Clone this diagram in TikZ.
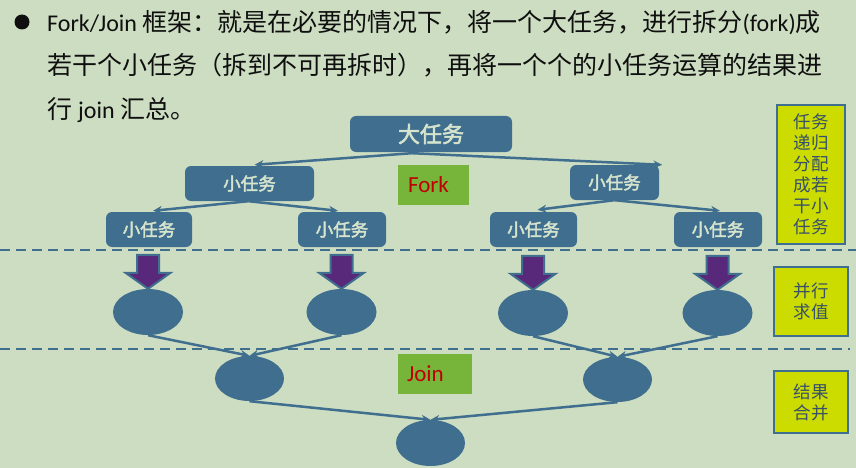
\documentclass[tikz,border=0pt]{standalone}
\usepackage{fontspec}
\setmainfont{Carlito}
\newfontfamily\cjk{Noto Sans CJK SC}
\newfontfamily\cjkb[FakeBold=2.5]{Noto Sans CJK SC}
\usetikzlibrary{arrows.meta,calc,shapes.geometric}
\definecolor{bg}{RGB}{205,221,194}
\definecolor{steel}{RGB}{63,110,142}
\definecolor{boxtxt}{RGB}{214,228,205}
\definecolor{purp}{RGB}{88,40,122}
\definecolor{yel}{RGB}{204,220,0}
\definecolor{grn}{RGB}{118,180,58}
\definecolor{redt}{RGB}{192,0,0}
\definecolor{ytxt}{RGB}{55,80,105}
\definecolor{headtxt}{RGB}{15,15,15}
\begin{document}
\begin{tikzpicture}[x=1pt,y=-1pt,
  task/.style={fill=steel, rounded corners=6pt, text=boxtxt, inner sep=0pt,
    font=\cjkb\fontsize{17.5}{17.5}\selectfont},
  blob/.style={ellipse, fill=steel, minimum width=70pt, minimum height=46pt, inner sep=0pt},
  conn/.style={draw=steel, line width=2.5pt, -{Stealth[length=9pt,width=8pt]}},
  sepline/.style={draw=steel, line width=2.5pt, dash pattern=on 10pt off 6pt},
  parrow/.style={fill=purp, draw=steel, line width=2pt, line join=miter},
  ybox/.style={fill=yel, draw=steel, line width=2.5pt, text=ytxt, align=center,
    inner sep=0pt, font=\cjk\fontsize{17.5}{21}\selectfont},
  gbox/.style={fill=grn, text=redt, inner sep=0pt, font=\fontsize{23}{23}\selectfont},
  head/.style={anchor=base west, inner sep=0pt, text=headtxt}
]
\fill[bg] (0,0) rectangle (856,468);
\useasboundingbox (0,0) rectangle (856,468);

% header
\fill[headtxt] (22,22) circle (7.5);
\node[head] (l1) at (47,32) {\fontsize{24}{24}\selectfont Fork/Join {\cjk\fontsize{25}{25}\selectfont 框架：就是在必要的情况下，将一个大任务，进行拆分}(fork){\cjk\fontsize{25}{25}\selectfont 成}};
\node[head] (l2) at (47,75) {\cjk\fontsize{25}{25}\selectfont 若干个小任务（拆到不可再拆时），再将一个个的小任务运算的结果进};
\node[head] (l3) at (47,119) {{\cjk\fontsize{25}{25}\selectfont 行}\hspace{6pt}\fontsize{24}{24}\selectfont join\hspace{6pt}{\cjk\fontsize{25}{25}\selectfont 汇总。}};

% fork tree
\node[task, minimum width=162pt, minimum height=36pt, font=\cjkb\fontsize{22}{22}\selectfont] (big) at (431,134) {大任务};
\node[task, minimum width=129pt, minimum height=35pt] (s1) at (249.5,183.5) {小任务};
\node[task, minimum width=89pt, minimum height=35pt] (s2) at (614.5,182.5) {小任务};
\node[task, minimum width=86pt, minimum height=35pt] (t1) at (149,229.5) {小任务};
\node[task, minimum width=88pt, minimum height=35pt] (t2) at (342,229.5) {小任务};
\node[task, minimum width=87pt, minimum height=35pt] (t3) at (533.5,229.5) {小任务};
\node[task, minimum width=88pt, minimum height=35pt] (t4) at (718,229.5) {小任务};

\draw[conn] ($(big.south)+(-19,1)$) -- ($(s1.north)+(5,-1)$);
\draw[conn] ($(big.south)+(-19,1)$) -- ($(s2.north east)+(3,0)$);
\draw[conn] ($(s1.south)+(-1,0)$) -- ($(t1.north)+(4,-1)$);
\draw[conn] ($(s1.south)+(-1,0)$) -- ($(t2.north)+(-4,-1)$);
\draw[conn] (s2.south) -- ($(t3.north)+(4,-2)$);
\draw[conn] (s2.south) -- ($(t4.north)+(2,-1)$);

\node[gbox, minimum width=71pt, minimum height=40pt, text width=51pt, align=left] (fork) at (433.5,185) {Fork};

% separators
\draw[sepline] (0,250) -- (856,250);
\draw[sepline] (0,349) -- (850,349);

% parallel
\node[blob] (e1) at (148,312) {};
\node[blob] (e2) at (341.5,312) {};
\node[blob] (e3) at (533,313) {};
\node[blob] (e4) at (717.5,313) {};
\foreach \n in {e1,e2,e3,e4}{
  \draw[parrow] ($(\n.north)+(-11,-34)$) -- ($(\n.north)+(11,-34)$) -- ($(\n.north)+(11,-16)$)
    -- ($(\n.north)+(22.5,-16)$) -- (\n.north) -- ($(\n.north)+(-22.5,-16)$)
    -- ($(\n.north)+(-11,-16)$) -- cycle;
}

% join
\node[blob, minimum width=69pt, minimum height=45pt] (j1) at (249.5,378.5) {};
\node[blob, minimum width=69pt, minimum height=45pt] (j2) at (617.5,379.5) {};
\node[blob, minimum width=69pt, minimum height=46pt] (f) at (430.5,443) {};
\draw[conn] (e1.south) -- (j1.north);
\draw[conn] (e2.south) -- (j1.north);
\draw[conn] (e3.south) -- (j2.north);
\draw[conn] (e4.south) -- (j2.north);
\draw[conn] (j1.south) -- (f.north);
\draw[conn] (j2.south) -- (f.north);

\node[gbox, minimum width=74pt, minimum height=40pt, text width=56pt, align=left] (join) at (435,374) {Join};

% side labels
\node[ybox, minimum width=68pt, minimum height=139pt] (y1) at (811,174.5) {任务\\递归\\分配\\成若\\干小\\任务};
\node[ybox, minimum width=74pt, minimum height=69pt] (y2) at (811,301.5) {并行\\求值};
\node[ybox, minimum width=74pt, minimum height=62pt] (y3) at (811,402) {结果\\合并};
\end{tikzpicture}
\end{document}
